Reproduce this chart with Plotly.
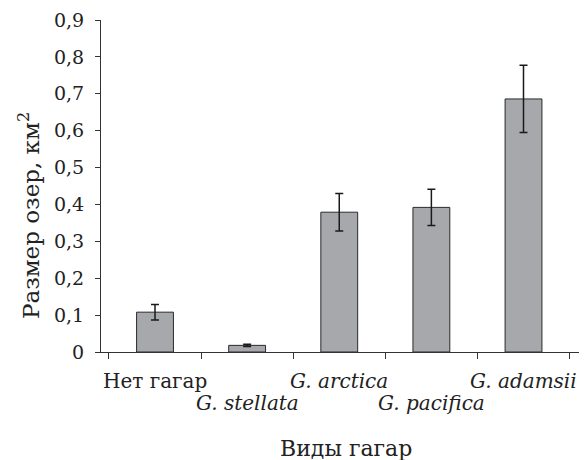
import plotly.graph_objects as go

categories = ["Нет гагар", "G. stellata", "G. arctica", "G. pacifica", "G. adamsii"]
label_texts = ["Нет гагар", "<i>G. stellata</i>", "<i>G. arctica</i>",
               "<i>G. pacifica</i>", "<i>G. adamsii</i>"]
label_rows = [1, 2, 1, 2, 1]
values = [0.108, 0.018, 0.379, 0.392, 0.686]
errors = [0.021, 0.003, 0.051, 0.049, 0.091]
y_ticks = [0, 0.1, 0.2, 0.3, 0.4, 0.5, 0.6, 0.7, 0.8, 0.9]

FONT = "DejaVu Serif"
INK = "#222222"

fig = go.Figure(go.Bar(
    x=categories, y=values,
    width=0.4,
    marker=dict(color="#a7a8ac", line=dict(color="#2a2a2a", width=1)),
    error_y=dict(type="data", array=errors, color="#1a1a1a", thickness=1.5, width=4),
))

annotations = []
for cat, txt, row in zip(categories, label_texts, label_rows):
    annotations.append(dict(
        text=txt, x=cat, xref="x", y=0, yref="paper",
        yshift=-29 if row == 1 else -51, xanchor="center", yanchor="middle",
        showarrow=False, font=dict(family=FONT, size=20, color=INK)))
annotations.append(dict(
    text="Виды гагар", xref="paper", yref="paper", x=0.5, y=0,
    xshift=6, yshift=-96, xanchor="center", yanchor="middle", showarrow=False,
    font=dict(family=FONT, size=22, color=INK)))
annotations.append(dict(
    text="Размер озер, км<sup>2</sup>", xref="paper", yref="paper", x=0, y=0.5,
    xshift=-72, yshift=-30, xanchor="center", yanchor="middle", textangle=-90,
    showarrow=False, font=dict(family=FONT, size=23, color=INK)))

fig.update_layout(
    width=585, height=460,
    margin=dict(l=101, r=6, t=20, b=108),
    paper_bgcolor="white", plot_bgcolor="white",
    separators=", ",
    font=dict(family=FONT, size=19, color=INK),
    showlegend=False,
    xaxis=dict(
        type="category", showticklabels=False, automargin=False,
        tickson="boundaries", ticks="outside", ticklen=6, tickcolor="#333",
        showline=True, linecolor="#333", linewidth=1,
        showgrid=False,
    ),
    yaxis=dict(
        range=[0, 0.9], tickmode="array", tickvals=y_ticks,
        automargin=False, ticklabelstandoff=7,
        ticks="outside", ticklen=5, tickcolor="#333",
        showline=True, linecolor="#333", linewidth=1,
        showgrid=False, zeroline=False,
        tickfont=dict(family=FONT, size=19, color=INK),
    ),
    annotations=annotations,
)

fig.write_html(
    "out.html",
    config={"responsive": False, "displayModeBar": False},
    post_script="document.body.style.margin='0';document.body.style.overflow='hidden';",
)
